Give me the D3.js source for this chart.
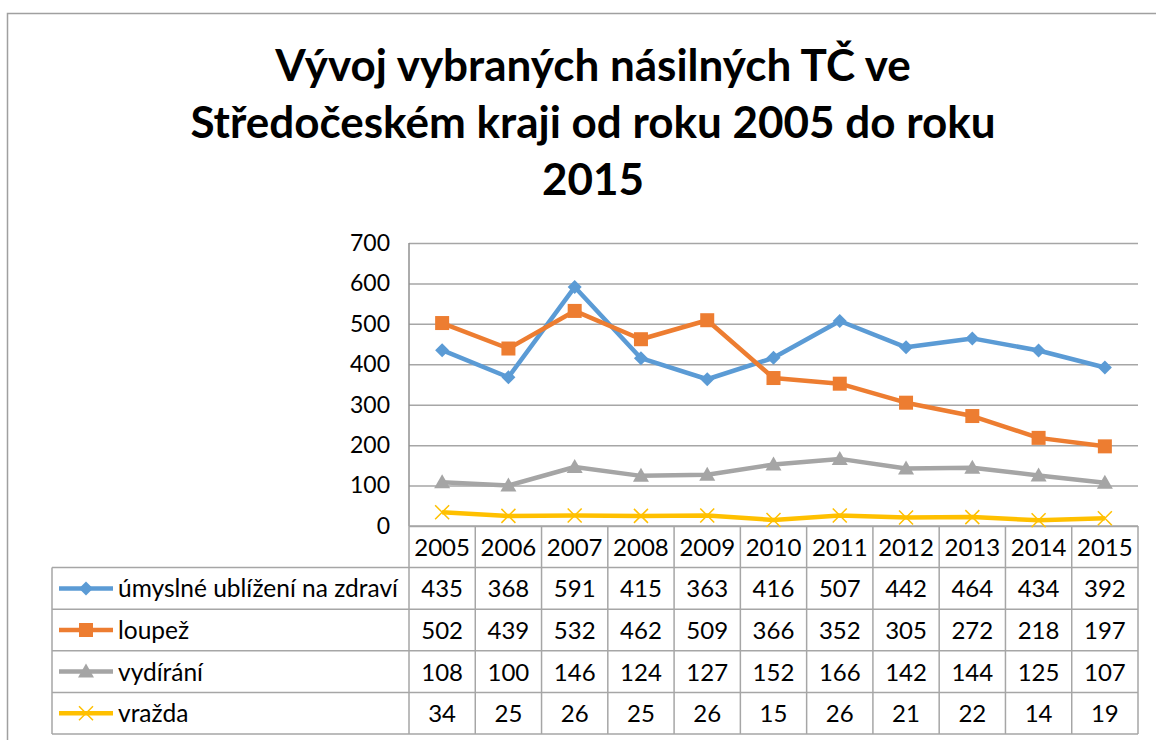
<!DOCTYPE html>
<html>
<head>
<meta charset="utf-8">
<script src="https://cdn.jsdelivr.net/npm/d3@7"></script>
<style>
  html, body { margin: 0; padding: 0; background: #fff; }
  svg { display: block; font-family: Lato, "Open Sans", sans-serif; }
</style>
</head>
<body>
<div id="chart"></div>
<script>
// data
const years = ["2005","2006","2007","2008","2009","2010","2011","2012","2013","2014","2015"]
const seriesNames = ["úmyslné ublížení na zdraví", "loupež", "vydírání", "vražda"]
const ublizeni = [435, 368, 591, 415, 363, 416, 507, 442, 464, 434, 392]
const loupez   = [502, 439, 532, 462, 509, 366, 352, 305, 272, 218, 197]
const vydirani = [108, 100, 146, 124, 127, 152, 166, 142, 144, 125, 107]
const vrazda   = [34, 25, 26, 25, 26, 15, 26, 21, 22, 14, 19]
const yTicks = [0, 100, 200, 300, 400, 500, 600, 700]
const titleLines = ["Vývoj vybraných násilných TČ ve", "Středočeském kraji od roku 2005 do roku", "2015"]

const seriesValues = [ublizeni, loupez, vydirani, vrazda]
const colors = ["#5B9BD5", "#ED7D31", "#A5A5A5", "#FFC000"]
const markers = ["diamond", "square", "triangle", "cross"]

const width = 1156
const height = 740
const plotLeft = 409, plotRight = 1138, plotTop = 243, plotBottom = 526
const rowH = 41.6
const tableLeft = 52
const gridColor = "#A6A6A6"
const tableFont = 24

const svg = d3.select("#chart").append("svg")
    .attr("width", width)
    .attr("height", height)
    .attr("viewBox", [0, 0, width, height])

// chart frame
svg.append("rect")
    .attr("x", 7.5).attr("y", 13.5)
    .attr("width", width + 10).attr("height", height + 10)
    .attr("fill", "none").attr("stroke", "#A0A0A0").attr("stroke-width", 1.5)

// title
svg.append("text")
    .attr("text-anchor", "middle")
    .attr("font-weight", "bold")
    .attr("font-size", 44)
    .attr("fill", "#000")
    .selectAll("tspan")
    .data(titleLines)
    .join("tspan")
    .attr("x", 593)
    .attr("y", (d, i) => 81 + i * 57)
    .text(d => d)

const xScale = d3.scaleBand(years, [plotLeft, plotRight])
const xc = d => xScale(d) + xScale.bandwidth() / 2
const yScale = d3.scaleLinear([0, 700], [plotBottom, plotTop])

// gridlines + y labels
const yAxis = d3.axisLeft(yScale).tickValues(yTicks).tickSize(0).tickPadding(19)
svg.append("g")
    .attr("transform", `translate(${plotLeft},0)`)
    .call(yAxis)
    .call(g => g.select(".domain").remove())
    .call(g => g.selectAll(".tick text")
        .attr("font-size", 23).attr("fill", "#000")
        .attr("font-family", "Lato, sans-serif"))
    .call(g => g.selectAll(".tick line").clone()
        .attr("x2", plotRight - plotLeft)
        .attr("stroke", gridColor).attr("stroke-width", 1.5))

// y axis line
svg.append("line")
    .attr("x1", plotLeft).attr("x2", plotLeft)
    .attr("y1", plotTop).attr("y2", plotBottom)
    .attr("stroke", "#909090").attr("stroke-width", 1.5)

// data table
const table = svg.append("g").attr("stroke", gridColor).attr("stroke-width", 1.5)
const tableBottom = plotBottom + rowH * 5
// vertical lines for columns
table.selectAll("line.col")
    .data(years.map(y => xScale(y)).concat([plotRight]))
    .join("line")
    .attr("x1", d => d).attr("x2", d => d)
    .attr("y1", plotBottom).attr("y2", tableBottom)
// legend column left edge
table.append("line")
    .attr("x1", tableLeft).attr("x2", tableLeft)
    .attr("y1", plotBottom + rowH).attr("y2", tableBottom)
// horizontal lines
table.append("line")
    .attr("x1", plotLeft).attr("x2", plotRight)
    .attr("y1", plotBottom).attr("y2", plotBottom)
table.selectAll("line.row")
    .data(d3.range(1, 6))
    .join("line")
    .attr("x1", tableLeft).attr("x2", plotRight)
    .attr("y1", i => plotBottom + i * rowH).attr("y2", i => plotBottom + i * rowH)

// header years
svg.append("g")
    .attr("font-size", tableFont).attr("text-anchor", "middle")
    .selectAll("text")
    .data(years)
    .join("text")
    .attr("x", d => xc(d))
    .attr("y", plotBottom + rowH / 2 + 9)
    .text(d => d)

// value cells
seriesValues.forEach((vals, s) => {
    const rowY = plotBottom + (s + 1) * rowH + rowH / 2 + 9
    svg.append("g")
        .attr("font-size", tableFont).attr("text-anchor", "middle")
        .selectAll("text")
        .data(vals)
        .join("text")
        .attr("x", (d, i) => xc(years[i]))
        .attr("y", rowY)
        .text(d => d)
})

function drawMarker(g, type, color) {
    if (type === "diamond") {
        g.append("path").attr("d", "M0,-7L7,0L0,7L-7,0Z").attr("fill", color)
    } else if (type === "square") {
        g.append("rect").attr("x", -7).attr("y", -7).attr("width", 14).attr("height", 14).attr("fill", color)
    } else if (type === "triangle") {
        g.append("path").attr("d", "M0,-8L8,6L-8,6Z").attr("fill", color)
    } else {
        g.append("path").attr("d", "M-7,-7L7,7M-7,7L7,-7").attr("stroke", color).attr("stroke-width", 1.5).attr("fill", "none")
    }
}

// legend keys in table
seriesNames.forEach((name, s) => {
    const cy = plotBottom + (s + 1) * rowH + rowH / 2
    const g = svg.append("g")
    g.append("line")
        .attr("x1", 59).attr("x2", 113).attr("y1", cy).attr("y2", cy)
        .attr("stroke", colors[s]).attr("stroke-width", 4.5)
    drawMarker(g.append("g").attr("transform", `translate(86,${cy})`), markers[s], colors[s])
    g.append("text")
        .attr("x", 118).attr("y", cy + 9)
        .attr("font-size", 24.5)
        .text(name)
})

// lines
const line = d3.line()
    .x((d, i) => xc(years[i]))
    .y(d => yScale(d))

seriesValues.forEach((vals, s) => {
    svg.append("path")
        .datum(vals)
        .attr("fill", "none")
        .attr("stroke", colors[s])
        .attr("stroke-width", 4.5)
        .attr("stroke-linejoin", "round")
        .attr("d", line)
    svg.append("g")
        .selectAll("g")
        .data(vals)
        .join("g")
        .attr("transform", (d, i) => `translate(${xc(years[i])},${yScale(d)})`)
        .each(function () { drawMarker(d3.select(this), markers[s], colors[s]) })
})
</script>
</body>
</html>
